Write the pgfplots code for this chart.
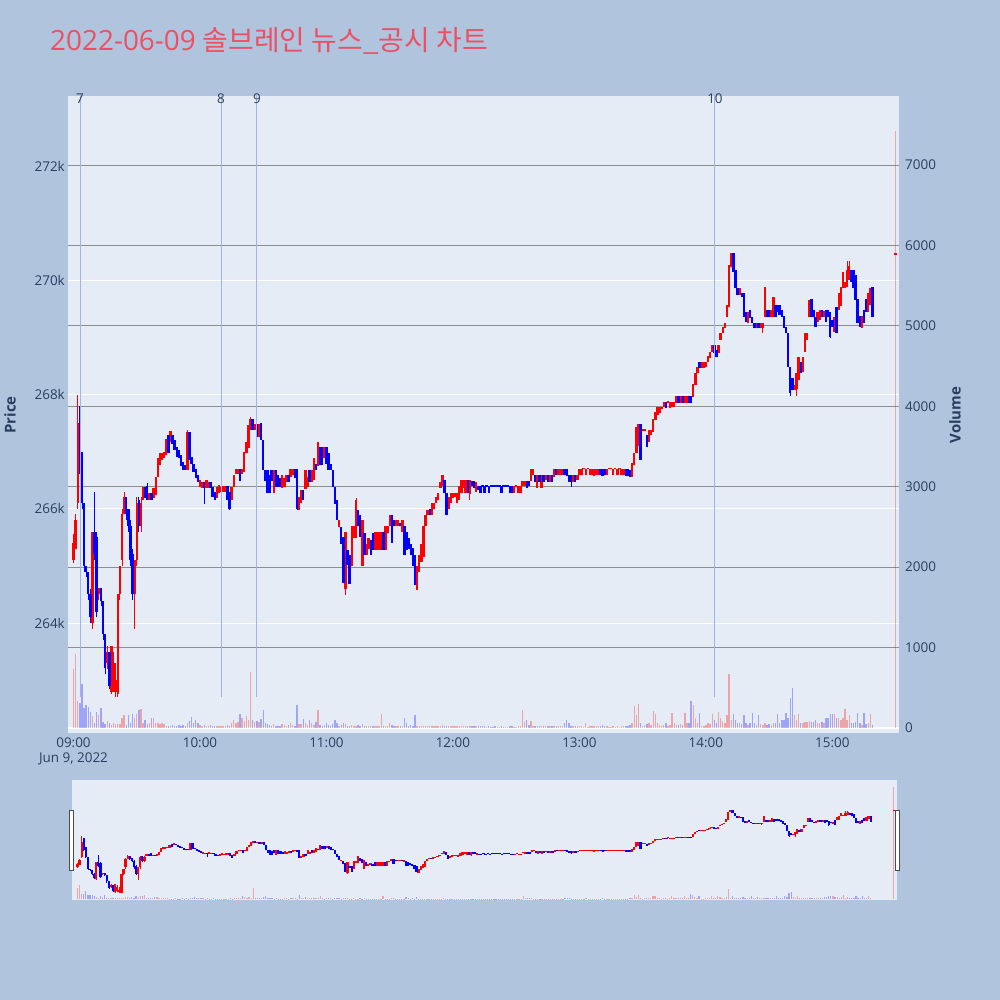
\documentclass[border=0pt]{standalone}
\usepackage{pgfplots}
\pgfplotsset{compat=1.18}
\usepackage{pgfplotstable}
\usepackage{fontspec}
\setmainfont{Open Sans}
\newfontfamily\kr{Noto Sans CJK KR}
\definecolor{pagebg}{HTML}{B0C4DE}
\definecolor{plotbg}{HTML}{E5ECF6}
\definecolor{txt}{HTML}{2A3F5F}
\definecolor{titlec}{HTML}{EC5064}
\definecolor{cup}{HTML}{FF0000}
\definecolor{cdn}{HTML}{0000FF}
\definecolor{vgrid}{HTML}{8E8E8E}
\definecolor{evt}{HTML}{A0B4EC}
\newcommand\ticksfont{\fontsize{13.5}{15}\selectfont}
\pgfplotsset{
  sel/.style={restrict expr to domain={\thisrow{d}}{#1}},
  wick/.style 2 args={draw=none, mark=none, error bars/.cd, y dir=plus, y explicit, error mark=none, error bar style={draw=#1, line width=#2}},
}
\newcommand\wickplot[3]{\addplot[sel={#1}, wick={#2}{#3}] table[x=t, y expr={min(\thisrow{l},\thisrow{o},\thisrow{c})}, y error expr={max(\thisrow{h},\thisrow{o},\thisrow{c})-min(\thisrow{l},\thisrow{o},\thisrow{c})}]{\data};}
\newcommand\bodyplot[3]{\addplot[sel={#1}, wick={#2}{#3}] table[x=t, y expr={min(\thisrow{o},\thisrow{c})}, y error expr={max(abs(\thisrow{c}-\thisrow{o}),0.03)}]{\data};}
\newcommand\volplot[3]{\addplot[ycomb, sel={#1}, draw=#2, draw opacity=0.3, line width=#3] table[x=t, y=v]{\data};}
\def\UP{0.5:1.5}
\def\DN{-0.5:0.5}
\pgfplotstableread{
t o c h l v d
0 265.10 265.40 265.55 265.05 740 1
1 265.30 265.80 265.90 999 920 1
2 266.10 267.50 268.00 266.00 340 1
3 267.80 266.70 0 266.60 310 0
4 267.00 266.10 0 266.00 550 0
5 266.10 265.00 0 264.90 250 0
6 265.00 264.90 0 264.80 290 0
7 264.90 264.50 0 264.40 265 0
8 264.50 264.10 264.60 264.00 200 0
9 264.00 265.60 0 263.90 150 1
10 265.60 265.20 266.30 265.10 60 0
11 265.50 264.20 265.60 264.10 200 0
12 264.50 264.62 0 264.40 160 1
13 264.62 264.38 0 264.30 255 0
14 264.38 263.80 0 263.70 70 0
15 263.80 263.21 0 263.10 50 0
16 263.30 263.50 263.60 263.20 90 1
17 263.50 262.89 0 262.85 60 0
18 262.80 263.60 0 262.75 40 1
19 262.90 263.30 263.50 262.80 60 1
20 262.80 263.00 263.30 262.70 50 1
21 262.75 264.50 0 262.70 55 1
22 264.50 265.00 0 264.40 55 1
23 265.10 265.90 266.00 265.00 130 1
24 265.90 266.20 266.30 999 165 1
25 266.20 265.90 0 265.80 40 0
26 266.00 265.70 0 265.60 160 0
27 265.70 265.10 265.80 265.00 60 0
28 265.20 264.50 265.30 264.40 170 0
29 264.50 265.10 0 263.90 130 1
30 265.10 266.10 266.20 265.00 180 1
31 266.15 265.70 266.20 265.60 230 0
32 265.70 266.10 266.20 265.60 240 1
33 266.15 266.38 0 999 60 1
34 266.38 266.18 0 999 100 0
35 266.40 266.15 266.45 999 50 0
36 266.15 266.28 0 999 60 1
37 266.27 266.15 0 999 130 0
38 266.18 266.36 0 999 130 1
39 266.24 266.56 0 999 60 1
40 266.56 266.88 0 999 60 1
41 266.77 266.97 0 999 50 1
42 266.85 266.97 0 999 60 1
43 266.88 267.00 0 999 50 1
44 266.94 267.23 0 999 30 1
45 267.29 266.97 0 999 30 0
46 267.17 267.37 0 999 30 1
47 267.29 267.14 0 999 40 0
48 267.20 267.03 0 999 30 0
49 267.08 266.91 0 999 30 0
50 267.03 266.88 0 999 40 0
51 266.94 266.74 0 999 30 0
52 266.82 266.68 0 999 40 0
53 266.77 266.68 0 999 30 0
54 266.68 267.35 267.38 999 60 1
55 267.35 266.85 0 999 90 0
56 266.90 266.79 0 999 140 0
57 266.79 266.65 0 999 60 0
58 266.70 266.53 0 999 100 0
59 266.59 266.47 0 999 60 0
60 266.38 266.50 0 999 40 1
61 266.36 266.47 0 999 30 1
62 266.47 266.36 0 266.08 40 0
63 266.37 266.50 0 999 30 1
64 266.37 266.47 0 999 30 1
65 266.47 266.36 0 999 40 0
66 266.38 266.20 0 999 30 0
67 266.30 266.16 0 999 30 0
68 266.18 266.38 0 999 20 1
69 266.28 266.42 0 999 20 1
70 266.30 266.38 0 999 20 1
71 266.30 266.40 0 999 20 1
72 266.30 266.40 0 999 20 1
73 266.40 266.15 0 999 40 0
74 266.30 266.00 0 265.98 30 0
75 266.15 266.38 0 999 60 1
76 266.38 266.59 0 999 100 1
77 266.60 266.69 0 999 60 1
78 266.60 266.69 0 999 80 1
79 266.69 266.48 0 999 170 0
80 266.60 266.69 0 999 120 1
81 266.65 267.00 0 999 90 1
82 266.97 267.17 0 999 150 1
83 267.06 267.46 0 999 100 1
84 267.38 267.58 267.60 999 700 1
85 267.58 267.38 0 999 100 0
86 267.38 267.49 0 999 80 1
87 267.49 267.26 0 999 90 0
88 267.26 267.49 0 999 70 1
89 267.50 267.20 0 999 110 0
90 267.20 266.68 0 999 230 0
91 266.68 266.48 0 999 60 0
92 266.68 266.27 0 999 50 0
93 266.59 266.27 0 999 40 0
94 266.68 266.48 0 999 30 0
95 266.27 266.68 0 999 50 1
96 266.68 266.38 0 999 30 0
97 266.59 266.38 0 999 30 0
98 266.53 266.38 0 999 30 0
99 266.36 266.59 0 999 50 1
100 266.38 266.53 0 999 40 1
101 266.47 266.59 0 999 30 1
102 266.59 266.47 0 999 40 0
103 266.56 266.69 0 999 60 1
104 266.59 266.69 0 999 40 1
105 266.69 266.53 0 999 30 0
106 266.69 266.00 0 265.98 290 0
107 265.98 266.21 0 999 50 1
108 266.10 266.33 0 999 50 1
109 266.33 266.15 0 999 110 0
110 266.35 266.68 0 999 60 1
111 266.38 266.56 0 999 40 1
112 266.68 266.47 0 999 100 0
113 266.47 266.68 0 999 60 1
114 266.50 266.88 0 999 40 1
115 266.79 266.68 0 999 80 0
116 266.74 267.17 0 999 230 1
117 267.08 266.77 0 999 40 0
118 267.08 266.77 0 999 30 0
119 266.88 267.08 0 999 40 1
120 267.08 266.79 0 999 60 0
121 266.97 266.68 0 999 40 0
122 266.78 266.68 0 999 30 0
123 266.68 266.38 0 999 50 0
124 266.38 266.09 0 999 100 0
125 266.15 265.80 0 999 60 0
126 265.68 265.80 0 999 30 1
127 265.68 265.39 0 999 40 0
128 265.51 264.70 0 999 60 0
129 264.60 265.59 0 264.49 50 1
130 265.28 265.01 0 999 30 0
131 265.19 264.69 0 999 30 0
132 264.99 265.69 0 999 40 1
133 265.48 265.69 0 999 30 1
134 265.48 266.15 266.18 999 30 1
135 265.98 265.69 0 999 40 0
136 265.89 265.51 0 999 30 0
137 264.99 265.80 0 999 50 1
138 265.57 265.19 0 999 30 0
139 265.19 265.39 0 999 30 1
140 265.30 265.48 0 999 30 1
141 265.45 265.19 0 999 30 0
142 265.57 265.28 0 999 30 0
143 265.28 265.60 0 999 20 1
144 265.28 265.60 0 999 20 1
145 265.28 265.60 0 999 30 1
146 265.28 265.60 0 999 170 1
147 265.60 265.28 0 999 30 0
148 265.28 265.69 0 999 30 1
149 265.57 265.69 0 999 30 1
150 265.69 265.89 0 999 60 1
151 265.89 265.40 0 999 40 0
152 265.80 265.69 0 999 30 0
153 265.69 265.80 0 999 30 1
154 265.69 265.80 0 999 20 1
155 265.75 265.69 0 999 30 0
156 265.60 265.80 0 999 20 1
157 265.69 265.19 0 999 130 0
158 265.60 265.28 0 999 60 0
159 265.48 265.30 0 999 30 0
160 265.39 265.19 0 999 40 0
161 265.31 264.99 0 999 30 0
162 265.19 264.67 0 999 160 0
163 264.57 264.99 0 999 20 1
164 264.90 265.19 0 999 30 1
165 265.07 265.39 0 999 20 1
166 265.16 265.69 0 999 20 1
167 265.69 265.89 0 999 20 1
168 265.89 265.98 0 999 20 1
169 266.00 265.89 0 999 20 0
170 265.89 266.10 0 999 20 1
171 266.00 266.10 0 999 20 1
172 266.10 266.20 0 999 30 1
173 266.15 266.28 0 999 30 1
174 266.36 266.47 0 999 20 1
175 266.39 266.59 0 999 40 1
176 266.50 266.27 0 999 30 0
177 266.27 265.89 0 999 20 0
178 266.00 266.21 0 999 30 1
179 266.10 266.28 0 999 20 1
180 266.18 266.28 0 999 20 1
181 266.21 266.28 0 999 20 1
182 266.10 266.28 0 999 20 1
183 266.16 266.40 0 999 30 1
184 266.28 266.50 0 999 30 1
185 266.36 266.50 0 999 20 1
186 266.28 266.50 0 999 30 1
187 266.50 266.28 0 999 20 0
188 266.25 266.50 0 266.16 20 1
189 266.49 266.39 0 999 20 0
190 266.49 266.36 0 999 30 0
191 266.30 266.47 0 999 20 1
192 266.39 266.33 0 999 20 0
193 266.39 266.28 0 999 30 0
194 266.385 266.385 0 999 20 0
195 266.39 266.28 0 999 20 0
196 266.385 266.385 0 999 10 0
197 266.39 266.28 0 999 20 0
198 266.385 266.385 0 999 10 0
199 266.385 266.385 0 999 10 0
200 266.385 266.385 0 999 20 0
201 266.385 266.385 0 999 10 0
202 266.385 266.385 0 999 10 0
203 266.39 266.28 0 999 20 0
204 266.385 266.385 0 999 10 0
205 266.385 266.385 0 999 10 0
206 266.385 266.385 0 999 10 0
207 266.39 266.27 0 999 20 0
208 266.39 266.27 0 999 20 0
209 266.28 266.39 0 999 10 1
210 266.385 266.385 0 999 10 1
211 266.28 266.39 0 999 20 1
212 266.28 266.39 0 999 20 1
213 266.40 266.49 0 999 230 1
214 266.39 266.49 0 999 80 1
215 266.49 266.36 0 999 100 0
216 266.49 266.39 0 999 40 0
217 266.49 266.69 0 999 90 1
218 266.59 266.69 0 999 30 1
219 266.59 266.47 0 999 20 0
220 266.36 266.59 0 999 20 1
221 266.59 266.47 0 999 20 0
222 266.36 266.59 0 999 20 1
223 266.59 266.47 0 999 20 0
224 266.50 266.59 0 999 20 1
225 266.59 266.47 0 999 20 0
226 266.47 266.59 0 999 20 1
227 266.59 266.47 0 999 30 0
228 266.56 266.69 0 999 20 1
229 266.69 266.59 0 999 20 0
230 266.59 266.69 0 999 20 1
231 266.59 266.69 0 999 20 1
232 266.59 266.69 0 999 30 1
233 266.69 266.59 0 999 60 0
234 266.69 266.57 0 999 100 0
235 266.59 266.47 0 999 60 0
236 266.59 266.47 0 266.385 30 0
237 266.47 266.59 0 999 20 1
238 266.59 266.47 0 999 20 0
239 266.50 266.59 0 999 30 1
240 266.59 266.69 0 999 20 1
241 266.59 266.69 0 999 20 1
242 266.69 266.69 0 999 10 1
243 266.59 266.69 0 999 60 1
244 266.69 266.69 0 999 10 1
245 266.59 266.69 0 999 20 1
246 266.59 266.69 0 999 20 1
247 266.57 266.69 0 999 20 1
248 266.59 266.69 0 999 30 1
249 266.59 266.69 0 999 20 1
250 266.69 266.59 0 999 20 0
251 266.69 266.57 0 999 40 0
252 266.69 266.59 0 999 20 0
253 266.59 266.69 0 999 20 1
254 266.69 266.69 0 999 10 1
255 266.69 266.69 0 999 10 1
256 266.59 266.69 0 999 20 1
257 266.69 266.69 0 999 10 1
258 266.59 266.69 0 999 20 1
259 266.69 266.69 0 999 10 1
260 266.59 266.69 0 999 20 1
261 266.59 266.69 0 999 30 1
262 266.69 266.57 0 999 20 0
263 266.69 266.57 0 999 30 0
264 266.68 266.56 0 999 40 0
265 266.56 266.795 0 999 60 1
266 266.765 266.97 0 999 274 1
267 266.97 267.44 0 999 160 1
268 267.10 267.49 0 999 299 1
269 267.49 266.86 0 999 60 0
270 267.37 267.39 0 999 30 1
271 267.37 267.39 0 999 40 1
272 267.29 267.085 0 999 50 0
273 267.17 267.38 0 999 60 1
274 267.29 267.38 0 999 40 1
275 267.35 267.58 0 999 215 1
276 267.55 267.70 0 999 170 1
277 267.64 267.785 0 999 60 1
278 267.68 267.785 0 999 40 1
279 267.74 267.785 0 999 30 1
280 267.785 267.873 0 999 40 1
281 267.873 267.756 0 999 60 0
282 267.86 267.88 0 999 30 1
283 267.756 267.873 0 999 40 1
284 267.785 267.873 0 999 190 1
285 267.785 267.873 0 999 60 1
286 267.855 267.972 0 999 40 1
287 267.972 267.855 0 999 40 0
288 267.855 267.972 0 999 50 1
289 267.972 267.855 0 999 40 0
290 267.855 267.972 0 999 185 1
291 267.855 267.972 0 999 60 1
292 267.972 267.855 0 999 60 0
293 267.972 267.855 0 999 330 0
294 267.96 268.18 0 999 286 1
295 268.165 268.37 0 999 120 1
296 268.37 268.485 0 999 60 1
297 268.573 268.456 0 999 185 0
298 268.456 268.573 0 999 30 1
299 268.456 268.573 0 999 30 1
300 268.485 268.573 0 999 40 1
301 268.573 268.672 0 999 60 1
302 268.631 268.748 0 999 50 1
303 268.748 268.865 0 999 180 1
304 268.865 268.719 0 999 100 0
305 268.78 268.66 0 999 60 0
306 268.719 268.865 0 999 203 1
307 268.952 269.069 0 999 120 1
308 269.069 269.174 0 999 90 1
309 269.156 269.255 0 999 60 1
310 269.349 269.565 0 999 160 1
311 269.535 270.265 0 999 672 1
312 270.235 270.469 0 999 100 1
313 270.469 270.148 0 999 180 0
314 270.177 269.856 0 999 100 0
315 269.856 269.740 0 999 60 0
316 269.740 269.856 0 999 60 1
317 269.769 269.70 0 999 50 0
318 269.769 269.360 0 999 162 0
319 269.448 269.273 0 999 60 0
320 269.244 269.448 0 999 40 1
321 269.477 269.331 0 999 60 0
322 269.349 269.244 0 999 182 0
323 269.255 269.156 0 999 60 0
324 269.156 269.255 0 999 40 1
325 269.255 269.156 0 999 165 0
326 269.156 269.255 0 999 50 1
327 269.156 269.255 0 269.069 40 1
328 269.36 269.874 0 999 60 1
329 269.477 269.349 0 999 40 0
330 269.477 269.349 0 999 50 0
331 269.349 269.477 0 999 40 1
332 269.349 269.711 0 999 60 1
333 269.565 269.36 0 999 60 0
334 269.565 269.448 0 999 180 0
335 269.565 269.39 0 999 60 0
336 269.477 269.36 0 999 100 0
337 269.372 269.156 0 999 100 0
338 269.186 269.069 0 999 182 0
339 269.079 268.474 0 999 120 0
340 268.485 268.019 0 267.972 369 0
341 268.281 268.077 0 999 493 0
342 268.077 268.165 0 999 165 1
343 268.10 268.369 0 267.972 100 1
344 268.252 268.66 0 999 172 1
345 268.573 268.369 0 999 60 0
346 268.398 268.66 0 999 60 1
347 268.748 269.069 0 999 80 1
348 268.952 269.069 0 999 70 1
349 269.36 269.652 0 999 90 1
350 269.664 269.349 269.68 999 80 0
351 269.477 269.36 0 999 70 0
352 269.349 269.186 0 999 100 0
353 269.273 269.448 0 999 60 1
354 269.30 269.477 0 999 60 1
355 269.477 269.36 0 999 80 0
356 269.36 269.47 0 999 60 1
357 269.477 269.273 0 999 120 0
358 269.477 269.349 0 999 130 0
359 269.448 269.00 0 268.981 170 0
360 269.30 269.186 0 999 175 0
361 269.10 269.36 0 999 178 1
362 269.535 269.069 0 999 130 0
363 269.477 269.769 0 999 120 1
364 269.547 269.874 0 999 100 1
365 269.856 270.148 0 999 120 1
366 269.856 269.973 0 999 236 1
367 269.885 270.177 270.34 999 100 1
368 270.002 270.25 270.34 999 156 1
369 270.177 269.973 0 999 60 0
370 270.177 269.856 0 999 60 0
371 270.09 269.652 0 999 80 0
372 269.664 269.244 0 999 185 0
373 269.372 269.186 0 999 60 0
374 269.156 269.372 0 999 40 1
375 269.477 269.244 0 999 185 0
376 269.68 269.448 0 999 50 0
377 269.448 269.769 0 999 60 1
378 269.565 269.856 0 999 180 1
379 269.874 269.36 0 999 40 0
390 270.45 270.47 0 999 7425 1
}\data
\begin{document}
\begin{tikzpicture}
\fill[pagebg] (0bp,0bp) rectangle (1000bp,-1000bp);
\node[anchor=base west, inner sep=0pt, text=titlec, font=\fontsize{28}{30}\selectfont] at (50bp,-50.5bp) {2022-06-09 {\kr 솔브레인 뉴스\_공시 차트}};
% price grid axis
\begin{axis}[at={(68bp,-733bp)}, anchor=south west, scale only axis, width=831bp, height=637bp,
  xmin=-2.61, xmax=391.6, ymin=262.075, ymax=273.225,
  axis background/.style={fill=plotbg},
  axis line style={draw=none}, major tick length=0pt,
  ytick={264,266,268,270,272}, yticklabels={264k,266k,268k,270k,272k},
  ymajorgrids, major grid style={white, line width=1bp},
  xtick={0,60,120,180,240,300,360}, xticklabels={{09:00\\Jun 9, 2022},10:00,11:00,12:00,13:00,14:00,15:00},
  xticklabel style={align=center, anchor=north, inner sep=0pt, yshift=-5bp, font=\ticksfont, text=txt},
  yticklabel style={anchor=east, inner sep=0pt, xshift=-3bp, font=\ticksfont, text=txt}]
\end{axis}
% volume axis
\begin{axis}[at={(68bp,-733bp)}, anchor=south west, scale only axis, width=831bp, height=637bp,
  xmin=-2.61, xmax=391.6, ymin=-62, ymax=7858, xtick=\empty,
  axis line style={draw=none}, major tick length=0pt,
  ytick={0,1000,2000,3000,4000,5000,6000,7000}, yticklabels={0,1000,2000,3000,4000,5000,6000,7000},
  yticklabel pos=right, ymajorgrids, major grid style={vgrid, line width=0.9bp},
  yticklabel style={anchor=west, inner sep=0pt, xshift=6bp, font=\ticksfont, text=txt}]
\draw[white, line width=2bp] (axis cs:-2.61,0) -- (axis cs:391.6,0);
\volplot{\UP}{cup}{1.4bp}
\volplot{\DN}{cdn}{1.4bp}
\end{axis}
% price candles
\begin{axis}[at={(68bp,-733bp)}, anchor=south west, scale only axis, width=831bp, height=637bp,
  xmin=-2.61, xmax=391.6, ymin=262.075, ymax=273.225, hide axis, clip mode=individual]
\wickplot{\UP}{cup}{0.8bp}
\wickplot{\DN}{cdn}{0.8bp}
\bodyplot{\UP}{cup}{2.4bp}
\bodyplot{\DN}{cdn}{2.4bp}
\foreach \ex/\lab in {3.1/7, 70/8, 87/9, 304.3/10}{
  \edef\tmp{\noexpand\draw[evt, line width=1bp] (axis cs:\ex,262.7) -- (axis cs:\ex,273.225);
  \noexpand\node[text=txt, font=\noexpand\ticksfont, inner sep=0pt] at (axis cs:\ex,273.18) {\lab};}\tmp
}
\end{axis}
\node[rotate=90, text=txt, font=\fontsize{15}{17}\selectfont\bfseries] at (10bp,-415bp) {Price};
\node[rotate=90, text=txt, font=\fontsize{15}{17}\selectfont\bfseries] at (955bp,-415bp) {Volume};
% range slider
\begin{axis}[at={(72bp,-900bp)}, anchor=south west, scale only axis, width=825bp, height=120bp,
  xmin=-2.61, xmax=391.6, ymin=-62, ymax=7858, xtick=\empty, ytick=\empty,
  axis background/.style={fill=plotbg}, axis line style={draw=none}]
\volplot{\UP}{cup}{1.2bp}
\volplot{\DN}{cdn}{1.2bp}
\end{axis}
\begin{axis}[at={(72bp,-900bp)}, anchor=south west, scale only axis, width=825bp, height=120bp,
  xmin=-2.61, xmax=391.6, ymin=262.075, ymax=273.225, hide axis]
\wickplot{\UP}{cup}{0.7bp}
\wickplot{\DN}{cdn}{0.7bp}
\bodyplot{\UP}{cup}{2.2bp}
\bodyplot{\DN}{cdn}{2.2bp}
\end{axis}
\draw[fill=white, draw=black!70, line width=1bp] (69bp,-810bp) rectangle (73bp,-870bp);
\draw[fill=white, draw=black!70, line width=1bp] (895bp,-810bp) rectangle (899bp,-870bp);
\end{tikzpicture}
\end{document}
